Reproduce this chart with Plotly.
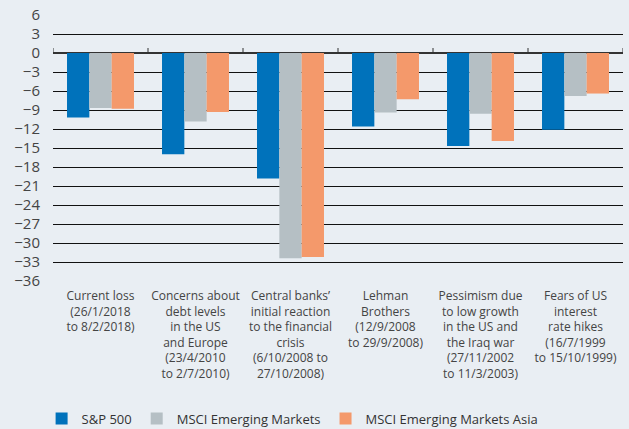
import plotly.graph_objects as go

categories = [
    "Current loss<br>(26/1/2018<br>to 8/2/2018)",
    "Concerns about<br>debt levels<br>in the US<br>and Europe<br>(23/4/2010<br>to 2/7/2010)",
    "Central banks’<br>initial reaction<br>to the financial<br>crisis<br>(6/10/2008 to<br>27/10/2008)",
    "Lehman<br>Brothers<br>(12/9/2008<br>to 29/9/2008)",
    "Pessimism due<br>to low growth<br>in the US and<br>the Iraq war<br>(27/11/2002<br>to 11/3/2003)",
    "Fears of US<br>interest<br>rate hikes<br>(16/7/1999<br>to 15/10/1999)",
]
sp500 = [-10.2, -16.0, -19.8, -11.6, -14.7, -12.1]
msci_em = [-8.7, -10.8, -32.4, -9.4, -9.6, -6.8]
msci_em_asia = [-8.8, -9.3, -32.2, -7.3, -13.9, -6.4]
y_ticks = list(range(6, -37, -3))

series = [
    ("S&P 500", sp500, "#0072bb"),
    ("MSCI Emerging Markets", msci_em, "#b5bfc4"),
    ("MSCI Emerging Markets Asia", msci_em_asia, "#f4996b"),
]

bg = "#e9eef3"
fig = go.Figure()
for name, vals, col in series:
    fig.add_trace(go.Bar(x=categories, y=vals, name=name, marker_color=col,
                         marker_line_width=0))

# tick marks on the zero line at category boundaries
for i in range(len(categories) + 1):
    fig.add_shape(type="line", xref="x", yref="y", x0=i - 0.5, x1=i - 0.5,
                  ysizemode="pixel", yanchor=0, y0=0, y1=5,
                  line=dict(color="#333333", width=1))

fig.update_layout(
    width=629, height=429,
    margin=dict(l=53, r=6, t=15, b=148, autoexpand=False),
    paper_bgcolor=bg, plot_bgcolor=bg,
    barmode="group", bargap=0.295, bargroupgap=0,
    font=dict(family="Open Sans", color="#444444"),
    legend=dict(orientation="h", x=-0.02, xanchor="left", y=-0.517, yanchor="middle",
                font=dict(size=13, color="#333333"), traceorder="normal"),
    showlegend=True,
)
fig.update_xaxes(showgrid=False, tickfont=dict(size=12, color="#444444"),
                 ticks="", showline=False, range=[-0.5, len(categories) - 0.5],
                 automargin=False, ticklabelstandoff=6)
fig.update_yaxes(range=[-36, 6], tickvals=y_ticks, showgrid=True,
                 gridcolor="#111111", gridwidth=1.2,
                 zeroline=True, zerolinecolor="#333333", zerolinewidth=1.5,
                 tickfont=dict(size=15, color="#444444"), ticks="", ticklabelstandoff=12,
                 automargin=False)

fig.write_html("out.html", config={"displayModeBar": False},
               post_script="document.body.style.margin='0';document.body.style.background='%s';" % bg)
